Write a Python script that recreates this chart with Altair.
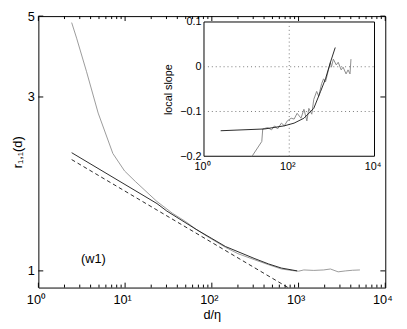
import altair as alt
import pandas as pd

# ---------------- data ----------------
# main panel
gray_x = [2.42, 2.76, 3.58, 4.89, 7.22, 9.86, 13.1, 23.3, 35, 50, 66, 90, 144, 200, 314, 450,
          634, 850, 1000, 1150, 1500, 1950, 2330, 2860, 3500, 4200, 5100]
gray_y = [4.80, 4.35, 3.53, 2.71, 2.10, 1.88, 1.76, 1.55, 1.44, 1.365, 1.30, 1.24, 1.16, 1.115,
          1.072, 1.04, 1.012, 1.002, 0.998, 1.006, 1.003, 1.006, 1.012, 0.994, 1.0, 1.004, 1.006]
black_x = [2.42, 23.3, 30.2, 65.9, 100, 144, 314, 450, 634, 962]
black_y = [2.11, 1.53, 1.46, 1.30, 1.227, 1.166, 1.08, 1.045, 1.018, 1.0]
dash_x = [2.42, 757]
dash_y = [2.02, 0.9]
label_w1 = ["(w1)"]
label_w1_x = [4.3]
label_w1_y = [1.08]

# inset (local slope)
inset_gray_x = [13.4, 22.7, 23.9, 31.2, 38.5, 45.2, 53, 65.5, 76.8, 90, 111, 130, 153, 189, 221,
                259, 288, 338, 376, 440, 490, 574, 638, 709, 831, 924, 975, 1082, 1268, 1410,
                1653, 1837, 2153, 2394, 2661, 2806]
inset_gray_y = [-0.2, -0.167, -0.139, -0.136, -0.141, -0.132, -0.139, -0.126, -0.132, -0.121,
                -0.115, -0.117, -0.104, -0.115, -0.095, -0.121, -0.093, -0.106, -0.073, -0.055,
                -0.066, -0.038, -0.027, -0.034, -0.007, 0.010, -0.001, 0.017, 0.004, 0.010,
                -0.007, -0.001, -0.016, -0.007, -0.016, 0.017]
inset_black_x = [2.46, 26.6, 76.8, 130, 221, 376, 544, 709, 925, 1200]
inset_black_y = [-0.143, -0.139, -0.132, -0.126, -0.115, -0.093, -0.055, -0.027, 0.010, 0.043]

# ticks
main_xticks = [1, 10, 100, 1000, 10000]
main_xminor = [m * 10 ** k for k in range(4) for m in range(2, 10)]
main_yticks = [1, 3, 5]
inset_xticks = [1, 100, 10000]
inset_yticks = [-0.2, -0.1, 0, 0.1]
inset_xgrid = [100]
inset_ygrid = [0, -0.1]

# ---------------- layout ----------------
W, H = 354, 277
IX0, IX1, IY0, IY1 = 169, 343, 143, 6
FONT = "Liberation Sans"

mx = alt.Scale(type="log", domain=[1, 10000], nice=False)
my = alt.Scale(type="log", domain=[0.9, 5], nice=False)
ix = alt.Scale(type="log", domain=[1, 10000], range=[IX0, IX1], nice=False)
iy = alt.Scale(type="linear", domain=[-0.2, 0.1], range=[IY0, IY1], nice=False, zero=False)

sup = "'10' + ['⁰','¹','²','³','⁴'][round(log(datum.value)/LN10)]"

df_gray = pd.DataFrame({"x": gray_x, "y": gray_y})
df_black = pd.DataFrame({"x": black_x, "y": black_y})
df_dash = pd.DataFrame({"x": dash_x, "y": dash_y})
df_w1 = pd.DataFrame({"x": label_w1_x, "y": label_w1_y, "t": label_w1})
df_igray = pd.DataFrame({"x": inset_gray_x, "y": inset_gray_y})
df_iblack = pd.DataFrame({"x": inset_black_x, "y": inset_black_y})

main_gray = alt.Chart(df_gray).mark_line(color="#9a9a9a", strokeWidth=1).encode(
    x=alt.X("x:Q", scale=mx, axis=alt.Axis(
        values=main_xticks, labelExpr=sup, title="d/η", ticks=False, domain=False,
        labelFlush=False, labelOffset=-3, labelPadding=6, labelFontSize=13,
        titleFontSize=13, titleFontWeight="normal", titlePadding=3)),
    y=alt.Y("y:Q", scale=my, axis=alt.Axis(
        values=main_yticks, title="r₁,₁(d)", ticks=False, domain=False,
        labelPadding=4, labelFontSize=13, titleFontSize=13, titleFontWeight="normal",
        titlePadding=3)),
)
main_black = alt.Chart(df_black).mark_line(color="#111", strokeWidth=0.9).encode(
    x=alt.X("x:Q", scale=mx, axis=None), y=alt.Y("y:Q", scale=my, axis=None))
main_dash = alt.Chart(df_dash).mark_line(color="#111", strokeWidth=0.9, strokeDash=[4, 3]).encode(
    x=alt.X("x:Q", scale=mx, axis=None), y=alt.Y("y:Q", scale=my, axis=None))
w1 = alt.Chart(df_w1).mark_text(font=FONT, fontSize=13, color="black").encode(
    x=alt.X("x:Q", scale=mx, axis=None), y=alt.Y("y:Q", scale=my, axis=None), text="t:N")

# inward ticks of main frame
df_xmaj = pd.DataFrame({"v": main_xticks})
df_xmin = pd.DataFrame({"v": main_xminor})
df_ymaj = pd.DataFrame({"v": main_yticks})
tick_layers = []
for df, ln in [(df_xmaj, 5), (df_xmin, 3)]:
    tick_layers.append(alt.Chart(df).mark_rule(color="black").encode(
        x=alt.X("v:Q", scale=mx, axis=None), y=alt.value(H), y2=alt.value(H - ln)))
    tick_layers.append(alt.Chart(df).mark_rule(color="black").encode(
        x=alt.X("v:Q", scale=mx, axis=None), y=alt.value(0), y2=alt.value(ln)))
tick_layers.append(alt.Chart(df_ymaj).mark_rule(color="black").encode(
    y=alt.Y("v:Q", scale=my, axis=None), x=alt.value(0), x2=alt.value(5)))
tick_layers.append(alt.Chart(df_ymaj).mark_rule(color="black").encode(
    y=alt.Y("v:Q", scale=my, axis=None), x=alt.value(W), x2=alt.value(W - 5)))

# inset
df_box = pd.DataFrame({"x": [inset_xticks[0]], "x2": [inset_xticks[-1]],
                       "y": [inset_yticks[0]], "y2": [inset_yticks[-1]]})
inset_box = alt.Chart(df_box).mark_rect(fill="white", stroke="black", strokeWidth=1).encode(
    x=alt.X("x:Q", scale=ix, axis=None), x2="x2:Q",
    y=alt.Y("y:Q", scale=iy, axis=None), y2="y2:Q")
df_vg = pd.DataFrame({"x": inset_xgrid, "y": [inset_yticks[0]] * len(inset_xgrid),
                      "y2": [inset_yticks[-1]] * len(inset_xgrid)})
inset_vgrid = alt.Chart(df_vg).mark_rule(color="#777", strokeDash=[1, 3]).encode(
    x=alt.X("x:Q", scale=ix, axis=None),
    y=alt.Y("y:Q", scale=iy, axis=None), y2="y2:Q")
df_hg = pd.DataFrame({"y": inset_ygrid, "x": [inset_xticks[0]] * len(inset_ygrid),
                      "x2": [inset_xticks[-1]] * len(inset_ygrid)})
inset_hgrid = alt.Chart(df_hg).mark_rule(color="#777", strokeDash=[1, 3]).encode(
    y=alt.Y("y:Q", scale=iy, axis=None),
    x=alt.X("x:Q", scale=ix, axis=None), x2="x2:Q")
inset_gray = alt.Chart(df_igray).mark_line(color="#8a8a8a", strokeWidth=1).encode(
    x=alt.X("x:Q", scale=ix, axis=alt.Axis(
        orient="bottom", offset=-(H - IY0), values=inset_xticks, labelExpr=sup, title=None,
        ticks=False, domain=False, labelFlush=False, labelOffset=-2, labelPadding=5,
        labelFontSize=11)),
    y=alt.Y("y:Q", scale=iy, axis=alt.Axis(
        orient="left", offset=-IX0, values=inset_yticks,
        labelExpr="datum.value == 0 ? '0' : format(datum.value, '.1f')",
        title="local slope", ticks=False, domain=False, labelPadding=3, labelFontSize=11,
        titleFontSize=11, titleFontWeight="normal", titlePadding=6)),
)
inset_black = alt.Chart(df_iblack).mark_line(color="#111", strokeWidth=0.9).encode(
    x=alt.X("x:Q", scale=ix, axis=None), y=alt.Y("y:Q", scale=iy, axis=None))

chart = alt.layer(
    main_gray, main_black, main_dash, w1, *tick_layers,
    inset_box, inset_vgrid, inset_hgrid, inset_gray, inset_black,
).resolve_scale(x="independent", y="independent").properties(
    width=W, height=H,
    autosize=alt.AutoSizeParams(type="none"),
    padding={"left": 31, "top": 5, "right": 14, "bottom": 39},
).configure_view(stroke="black", strokeWidth=1).configure_axis(
    labelFont=FONT, titleFont=FONT, labelColor="black", titleColor="black", grid=False
)

chart.save("out.html", embed_options={"renderer": "svg", "actions": False})
